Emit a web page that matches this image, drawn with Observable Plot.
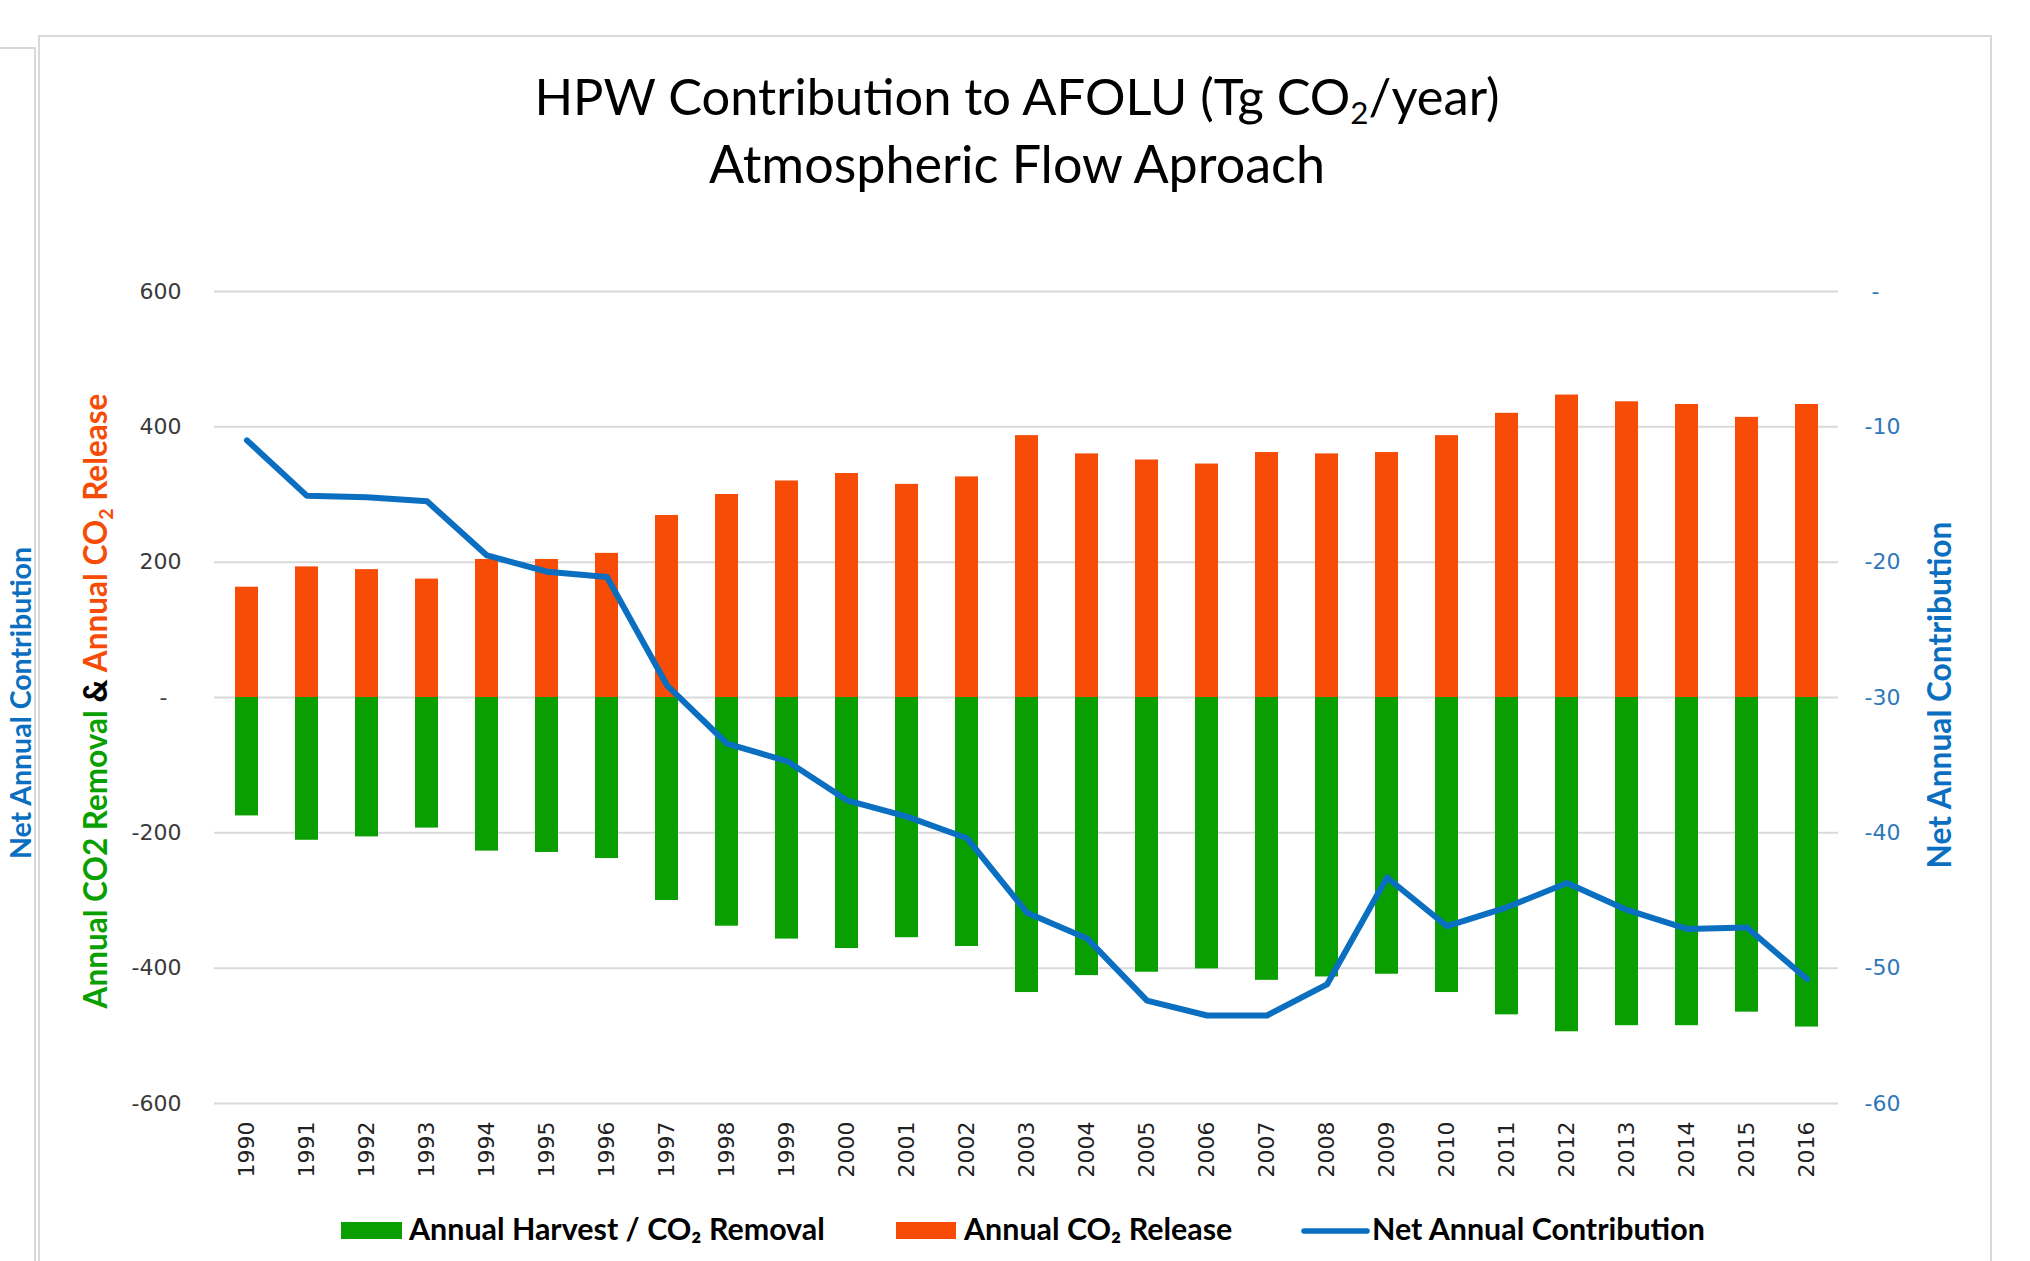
<!DOCTYPE html>
<html>
<head>
<meta charset="utf-8">
<script src="https://cdn.jsdelivr.net/npm/d3@7"></script>
<script src="https://cdn.jsdelivr.net/npm/@observablehq/plot@0.6"></script>
<style>
  html, body { margin: 0; padding: 0; background: #fff; }
  #page { position: relative; width: 2030px; height: 1261px; overflow: hidden; background: #fff; }
  #page > svg, #page > div { position: absolute; left: 0; }
</style>
</head>
<body>
<div id="page"></div>
<script>
// ---------------- data ----------------
const years = [1990,1991,1992,1993,1994,1995,1996,1997,1998,1999,2000,2001,2002,2003,
               2004,2005,2006,2007,2008,2009,2010,2011,2012,2013,2014,2015,2016];
// Annual CO2 release (Tg CO2/year, left axis)
const release = [163,193,189,175,204,204,213,269,300,320,331,315,326,387,
                 360,351,345,362,360,362,387,420,447,437,433,414,433];
// Annual harvest / CO2 removal (Tg CO2/year, left axis)
const removal = [-175,-211,-206,-193,-227,-229,-238,-300,-338,-357,-371,-355,-368,-436,
                 -411,-406,-401,-418,-413,-409,-436,-469,-494,-485,-485,-465,-487];
// Net annual contribution (right axis)
const net = [-11.0,-15.1,-15.2,-15.5,-19.5,-20.7,-21.1,-29.1,-33.4,-34.7,-37.6,-38.8,-40.4,-45.9,
             -47.8,-52.4,-53.5,-53.5,-51.2,-43.3,-46.9,-45.5,-43.7,-45.7,-47.1,-47.0,-50.8];
const leftTicks = [-600, -400, -200, 0, 200, 400, 600];
const rightTicks = [-60, -50, -40, -30, -20, -10, 0];

const titleLine1 = ["HPW Contribution to AFOLU (Tg CO", "2", "/year)"];
const titleLine2 = "Atmospheric Flow Aproach";
const legendItems = ["Annual Harvest / CO\u2082 Removal", "Annual CO\u2082 Release", "Net Annual Contribution"];

// ---------------- styles ----------------
const GREEN = "#0a9f00", ORANGE = "#f64c06", BLUE = "#0a6fc0", BLUE_TXT = "#2f77bb", GRID = "#d9d9d9";
const SANS = "Lato, 'Open Sans', sans-serif";
const TICKFONT = "'DejaVu Sans', Verdana, sans-serif";

// right axis (-60..0) mapped onto the left axis (-600..600)
const toLeft = v => 600 + 20 * v;
const fromLeft = d => (d - 600) / 20;

const rows = years.map((yr, i) => ({year: String(yr), release: release[i], removal: removal[i], net: net[i]}));

const ctx = document.createElement("canvas").getContext("2d");
function fit(text, weight, family, target) {
  ctx.font = `${weight} 100px ${family}`;
  return 100 * target / ctx.measureText(text).width;
}

const page = document.getElementById("page");
const W = 2030, H = 1261;

// ---------------- background frame ----------------
const bg = d3.create("svg").attr("width", W).attr("height", H).style("top", "0px");
bg.append("path").attr("d", "M0,48 H35 V1261").attr("fill", "none").attr("stroke", GRID).attr("stroke-width", 2);
bg.append("rect").attr("x", 39).attr("y", 36).attr("width", 1952).attr("height", 1300)
  .attr("fill", "#fff").attr("stroke", GRID).attr("stroke-width", 2);
const rtSize = fit("Net Annual Contribution", "bold", SANS, 348);
bg.append("text").attr("transform", "translate(31,703) rotate(-90)").attr("text-anchor", "middle")
  .attr("font-family", SANS).attr("font-weight", "bold").attr("font-size", rtSize * 0.9).attr("fill", BLUE)
  .text("Net Annual Contribution");
page.appendChild(bg.node());

// ---------------- title ----------------
const tSize = fit(titleLine2, "normal", SANS, 619);
ctx.font = `normal 100px ${SANS}`;
const w1 = ctx.measureText(titleLine1[0] + titleLine1[2]).width + 0.62 * ctx.measureText(titleLine1[1]).width;
const tSize1 = 100 * 967 / w1;
const ts = d3.create("svg").attr("width", W).attr("height", 200).style("top", "0px");
const t1 = ts.append("text").attr("x", 1017).attr("y", 115).attr("text-anchor", "middle")
  .attr("font-family", SANS).attr("font-size", tSize1).attr("fill", "#000");
t1.append("tspan").text(titleLine1[0]);
t1.append("tspan").attr("font-size", tSize1 * 0.62).attr("dy", tSize1 * 0.18).text(titleLine1[1]);
t1.append("tspan").attr("dy", -tSize1 * 0.18).text(titleLine1[2]);
ts.append("text").attr("x", 1017).attr("y", 183).attr("text-anchor", "middle")
  .attr("font-family", SANS).attr("font-size", tSize).attr("fill", "#000").text(titleLine2);
page.appendChild(ts.node());

// ---------------- chart ----------------
const chart = Plot.plot({
  width: W,
  height: 1000,
  marginTop: 91,
  marginBottom: 97,
  marginLeft: 214,
  marginRight: 192,
  style: {fontFamily: TICKFONT, fontSize: "22px", background: "transparent", overflow: "visible"},
  x: {type: "band", domain: years.map(String), paddingInner: 0.62, paddingOuter: 0.31},
  y: {domain: [-600, 600]},
  marks: [
    Plot.ruleY(leftTicks, {stroke: GRID, strokeWidth: 2}),
    Plot.barY(rows, {x: "year", y: "release", fill: ORANGE}),
    Plot.barY(rows, {x: "year", y: "removal", fill: GREEN}),
    Plot.line(rows, {x: "year", y: d => toLeft(d.net), stroke: BLUE, strokeWidth: 6,
                     strokeLinejoin: "round", strokeLinecap: "round"}),
    Plot.axisY(leftTicks, {anchor: "left", tickSize: 0, tickPadding: 33, label: null, color: "#3a3a3a",
                           fontSize: 22, tickFormat: d => d === 0 ? "-\u00a0\u00a0" : String(d)}),
    Plot.axisY(rightTicks.map(toLeft), {anchor: "right", tickSize: 0, tickPadding: 26, label: null, color: BLUE_TXT,
                           fontSize: 22, tickFormat: d => fromLeft(d) === 0 ? "\u00a0-" : String(fromLeft(d))}),
    Plot.axisX({anchor: "bottom", tickSize: 0, tickPadding: 18, tickRotate: -90, label: null,
                color: "#222", fontSize: 22})
  ]
});
chart.style.position = "absolute";
chart.style.top = "200px";
chart.style.left = "0px";
page.appendChild(chart);

// axis titles (multi-coloured, rotated)
const svg = d3.select(chart);
const ltSize = fit("Annual CO2 Removal & Annual CO2 Release", "bold", SANS, 622);
const lt = svg.append("text").attr("transform", `translate(107,${701 - 200}) rotate(-90)`)
  .attr("text-anchor", "middle").attr("font-family", SANS).attr("font-weight", "bold").attr("font-size", ltSize);
lt.append("tspan").attr("fill", GREEN).text("Annual CO2 Removal ");
lt.append("tspan").attr("fill", "#000").attr("font-weight", 900).text("& ");
lt.append("tspan").attr("fill", ORANGE).text("Annual CO");
lt.append("tspan").attr("fill", ORANGE).attr("font-size", ltSize * 0.62).attr("dy", ltSize * 0.18).text("2");
lt.append("tspan").attr("fill", ORANGE).attr("dy", -ltSize * 0.18).text(" Release");

svg.append("text").attr("transform", `translate(1951,${695 - 200}) rotate(-90)`)
  .attr("text-anchor", "middle").attr("font-family", SANS).attr("font-weight", "bold")
  .attr("font-size", rtSize).attr("fill", BLUE).text("Net Annual Contribution");

// ---------------- legend ----------------
const lgSize = fit(legendItems[0], "bold", SANS, 416);
const lg = d3.create("svg").attr("width", W).attr("height", 61).style("top", "1200px");
const baseY = 40;
lg.append("rect").attr("x", 341).attr("y", 22).attr("width", 61).attr("height", 17).attr("fill", GREEN);
lg.append("rect").attr("x", 896).attr("y", 22).attr("width", 60).attr("height", 17).attr("fill", ORANGE);
lg.append("line").attr("x1", 1304).attr("x2", 1367).attr("y1", 31).attr("y2", 31)
  .attr("stroke", BLUE).attr("stroke-width", 5.5).attr("stroke-linecap", "round");
[[409, legendItems[0]], [964, legendItems[1]], [1372, legendItems[2]]].forEach(([x, s]) => {
  lg.append("text").attr("x", x).attr("y", baseY).attr("font-family", SANS).attr("font-weight", "bold")
    .attr("font-size", lgSize).attr("fill", "#000").text(s);
});
page.appendChild(lg.node());
</script>
</body>
</html>
